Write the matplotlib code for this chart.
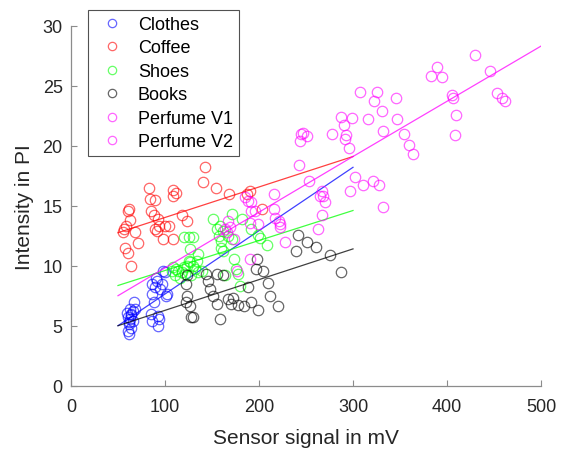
import numpy as np
import matplotlib
matplotlib.use('Agg')
import matplotlib.pyplot as plt

plt.rcParams['font.family'] = ['Liberation Sans', 'DejaVu Sans']

# scatter data (sensor signal in mV, intensity in PI)
clothes_x = [63, 66, 64, 61, 63, 66, 62, 64, 61, 62, 67, 60, 68, 64, 62,
             86, 91, 98, 102, 101, 89, 95, 86, 88, 85, 93, 86, 93, 94, 97, 90, 100]
clothes_y = [6.4, 6.25, 6.0, 5.7, 5.55, 5.4, 5.15, 4.85, 4.6, 4.3, 7.0, 6.1, 6.4, 5.9, 5.3,
             8.5, 8.75, 9.6, 7.65, 7.5, 8.2, 8.05, 7.65, 6.95, 6.0, 5.85, 5.4, 5.0, 5.55, 8.45, 9.0, 9.5]

coffee_x = [143, 140, 154, 168, 83, 109, 112, 108, 84, 89, 62, 61, 85, 88, 93, 118, 123, 63,
            59, 56, 55, 68, 89, 94, 100, 104, 92, 57, 61, 71, 64, 98, 108, 187, 190, 203]
coffee_y = [18.2, 17.0, 16.5, 16.0, 16.5, 16.3, 16.1, 15.8, 15.6, 15.5, 14.7, 14.6, 14.6, 14.2,
            13.9, 14.2, 13.7, 13.8, 13.3, 13.1, 12.8, 12.8, 13.1, 13.3, 13.3, 13.3, 12.9, 11.5,
            11.1, 11.9, 10.0, 12.2, 12.2, 16.0, 16.2, 14.7]

shoes_x = [151, 171, 159, 162, 157, 167, 171, 160, 182, 192, 199, 201, 208, 120, 125, 130,
           127, 135, 160, 162, 173, 175, 164, 178, 180, 109, 112, 120, 123, 127, 130, 132,
           135, 139, 121, 128, 116, 111, 134, 107, 114, 118, 125, 155]
shoes_y = [13.9, 14.3, 13.3, 12.9, 12.5, 12.5, 12.2, 12.1, 13.9, 13.1, 12.6, 12.3, 11.7, 12.4,
           12.4, 12.4, 11.4, 11.0, 11.5, 11.25, 10.6, 9.7, 9.2, 9.3, 8.3, 9.9, 9.7, 9.9, 10.0,
           10.3, 10.0, 9.7, 9.45, 9.6, 9.3, 9.2, 9.0, 9.2, 10.4, 9.6, 9.6, 9.45, 10.4, 13.1]

books_x = [242, 251, 261, 239, 276, 287, 198, 197, 204, 210, 212, 220, 199, 192, 184, 178,
           172, 167, 188, 155, 159, 151, 146, 148, 144, 155, 123, 122, 127, 128, 122, 123,
           130, 162, 170]
books_y = [12.6, 12.0, 11.6, 11.25, 10.9, 9.45, 10.55, 9.7, 9.6, 8.6, 7.5, 6.65, 6.3, 6.95,
           6.65, 6.7, 7.35, 7.2, 8.2, 6.85, 5.55, 7.5, 8.75, 8.05, 9.3, 9.3, 7.5, 6.95, 6.65,
           5.7, 8.45, 9.2, 5.7, 9.2, 6.8]

perf1_x = [243, 253, 216, 185, 188, 192, 192, 196, 216, 217, 221, 222, 222, 167, 169, 166,
           173, 190, 267, 268, 270, 265, 267, 263, 228, 177, 164, 190, 199]
perf1_y = [18.4, 17.1, 16.0, 15.7, 15.4, 15.3, 14.6, 14.6, 14.7, 14.0, 13.75, 13.5, 13.2,
           13.75, 13.2, 12.8, 12.2, 13.6, 16.25, 15.8, 15.3, 15.8, 14.2, 13.1, 12.0, 9.6,
           13.05, 10.6, 13.5]

perf2_x = [430, 389, 383, 395, 446, 453, 458, 462, 405, 406, 410, 408, 346, 325, 322, 331,
           347, 307, 316, 299, 287, 290, 278, 293, 292, 296, 332, 354, 360, 364, 245, 247,
           251, 244, 302, 311, 321, 328, 297, 332]
perf2_y = [27.6, 26.6, 25.8, 25.75, 26.2, 24.4, 24.0, 23.7, 24.2, 24.0, 22.6, 20.9, 24.0,
           24.5, 23.7, 22.9, 22.2, 24.5, 22.2, 22.3, 22.4, 21.7, 21.0, 20.9, 20.6, 19.8, 21.2,
           21.0, 20.1, 19.3, 21.0, 21.1, 20.8, 20.4, 17.4, 16.7, 17.1, 16.7, 16.2, 14.9]

# fitted lines (end points)
fit_x = {'Clothes': [50, 300], 'Coffee': [50, 300], 'Shoes': [50, 300],
         'Books': [50, 300], 'Perfume V1': [50, 300], 'Perfume V2': [300, 500]}
fit_y = {'Clothes': [5.0, 18.2], 'Coffee': [12.75, 19.1], 'Shoes': [8.35, 14.6],
         'Books': [5.0, 11.4], 'Perfume V1': [7.5, 19.1], 'Perfume V2': [19.1, 28.3]}

groups = [('Clothes', clothes_x, clothes_y, 'blue'),
          ('Coffee', coffee_x, coffee_y, 'red'),
          ('Shoes', shoes_x, shoes_y, 'lime'),
          ('Books', books_x, books_y, 'black'),
          ('Perfume V1', perf1_x, perf1_y, 'magenta'),
          ('Perfume V2', perf2_x, perf2_y, 'magenta')]

fig = plt.figure(figsize=(5.70, 4.52), dpi=100)
ax = fig.add_axes([71/570, 1 - 386.7/452, 470/570, 360/452])

handles = []
for name, xs, ys, col in groups:
    h, = ax.plot(xs, ys, 'o', mfc='none', mec=col, mew=0.9, ms=7.5,
                 alpha=0.6, label=name)
    handles.append(h)
    ax.plot(fit_x[name], fit_y[name], '-', color=col, lw=0.9, alpha=0.75)

ax.set_xlim(0, 500)
ax.set_ylim(0, 30)
ax.set_xticks(np.arange(0, 501, 100))
ax.set_yticks(np.arange(0, 31, 5))
ax.spines['top'].set_visible(False)
ax.spines['right'].set_visible(False)
for s in ['left', 'bottom']:
    ax.spines[s].set_color('#8c8c8c')
    ax.spines[s].set_linewidth(0.9)
ax.tick_params(direction='in', length=4, width=0.8, color='#8c8c8c',
               labelsize=13, labelcolor='#262626')
ax.tick_params(axis='x', pad=9)
ax.tick_params(axis='y', pad=6)
ax.set_xlabel('Sensor signal in mV', fontsize=15, color='#262626', labelpad=9)
ax.set_ylabel('Intensity in PI', fontsize=15, color='#262626', labelpad=6)

leg = fig.legend(handles=handles, loc='upper left',
                 bbox_to_anchor=(88/570, 1 - 11/452), bbox_transform=fig.transFigure,
                 fontsize=13, frameon=True, fancybox=False, borderaxespad=0,
                 handlelength=2.0, handletextpad=0.43, labelspacing=0.36,
                 borderpad=0.33, markerscale=0.8)
leg.get_frame().set_edgecolor('#262626')
leg.get_frame().set_linewidth(0.8)

fig.savefig('out.png', dpi=100)
